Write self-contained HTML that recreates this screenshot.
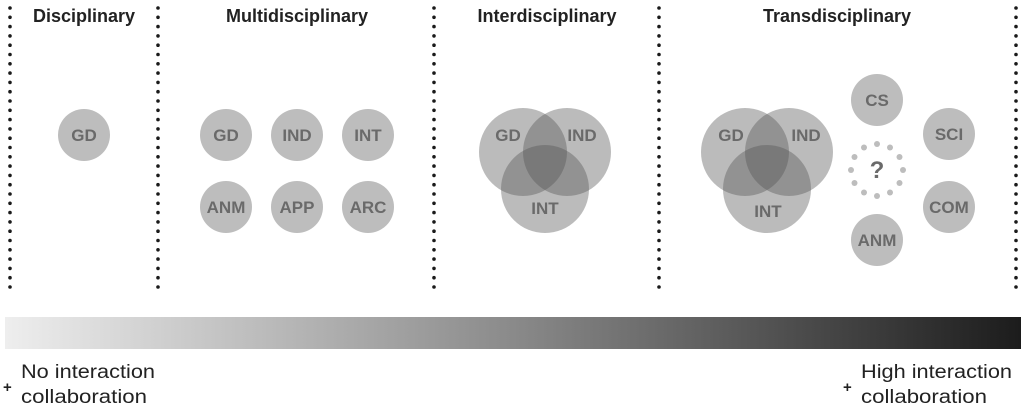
<!DOCTYPE html>
<html><head><meta charset="utf-8"><style>
html,body{margin:0;padding:0;background:#fff;width:1024px;height:411px;overflow:hidden}
svg{display:block}
text{font-family:"Liberation Sans",sans-serif}
</style></head><body>
<svg width="1024" height="411" viewBox="0 0 1024 411" xmlns="http://www.w3.org/2000/svg">
<defs>
<linearGradient id="g" x1="0" x2="1" y1="0" y2="0">
<stop offset="0" stop-color="#eeeeee"/><stop offset="0.5" stop-color="#8a8a8a"/><stop offset="1" stop-color="#1c1c1c"/>
</linearGradient>
</defs>
<g stroke="#1a1a1a" stroke-width="3.6" stroke-linecap="round" stroke-dasharray="0 9.3">
<line x1="10" y1="8" x2="10" y2="292"/>
<line x1="158" y1="8" x2="158" y2="292"/>
<line x1="434" y1="8" x2="434" y2="292"/>
<line x1="659" y1="8" x2="659" y2="292"/>
<line x1="1016" y1="8" x2="1016" y2="292"/>
</g>
<g font-size="18" font-weight="bold" fill="#222" text-anchor="middle">
<text x="84" y="22">Disciplinary</text>
<text x="297" y="22">Multidisciplinary</text>
<text x="547" y="22">Interdisciplinary</text>
<text x="837" y="22">Transdisciplinary</text>
</g>
<g fill="#bdbdbd">
<circle cx="84" cy="135" r="26"/>
<circle cx="226" cy="135" r="26"/><circle cx="297" cy="135" r="26"/><circle cx="368" cy="135" r="26"/>
<circle cx="226" cy="207" r="26"/><circle cx="297" cy="207" r="26"/><circle cx="368" cy="207" r="26"/>
<circle cx="877" cy="100" r="26"/><circle cx="949" cy="134" r="26"/>
<circle cx="949" cy="207" r="26"/><circle cx="877" cy="240" r="26"/>
</g>
<g fill="#555" fill-opacity="0.4">
<circle cx="523" cy="152" r="44"/><circle cx="567" cy="152" r="44"/><circle cx="545" cy="189" r="44"/>
<circle cx="745" cy="152" r="44"/><circle cx="789" cy="152" r="44"/><circle cx="767" cy="189" r="44"/>
</g>
<g fill="#bdbdbd">
<circle cx="877" cy="144" r="3"/><circle cx="890" cy="147.5" r="3"/><circle cx="899.5" cy="157" r="3"/>
<circle cx="903" cy="170" r="3"/><circle cx="899.5" cy="183" r="3"/><circle cx="890" cy="192.5" r="3"/>
<circle cx="877" cy="196" r="3"/><circle cx="864" cy="192.5" r="3"/><circle cx="854.5" cy="183" r="3"/>
<circle cx="851" cy="170" r="3"/><circle cx="854.5" cy="157" r="3"/><circle cx="864" cy="147.5" r="3"/>
</g>
<g font-size="17" font-weight="bold" fill="#6a6a6a" text-anchor="middle">
<text x="84" y="141">GD</text>
<text x="226" y="141">GD</text><text x="297" y="141">IND</text><text x="368" y="141">INT</text>
<text x="226" y="213">ANM</text><text x="297" y="213">APP</text><text x="368" y="213">ARC</text>
<text x="508" y="141">GD</text><text x="582" y="141">IND</text><text x="545" y="214">INT</text>
<text x="731" y="141">GD</text><text x="806" y="141">IND</text><text x="768" y="217">INT</text>
<text x="877" y="106">CS</text><text x="949" y="140">SCI</text>
<text x="949" y="213">COM</text><text x="877" y="246">ANM</text>
<text x="877" y="178" font-size="24">?</text>
</g>
<rect x="5" y="317" width="1016" height="32" fill="url(#g)"/>
<g font-size="19" fill="#222">
<text x="21" y="378" textLength="134" lengthAdjust="spacingAndGlyphs">No interaction</text>
<text x="21" y="403" textLength="126" lengthAdjust="spacingAndGlyphs">collaboration</text>
<text x="861" y="378" textLength="151" lengthAdjust="spacingAndGlyphs">High interaction</text>
<text x="861" y="403" textLength="126" lengthAdjust="spacingAndGlyphs">collaboration</text>
<text x="3" y="392" font-size="15" font-weight="bold">+</text>
<text x="843" y="392" font-size="15" font-weight="bold">+</text>
</g>
</svg>
</body></html>
